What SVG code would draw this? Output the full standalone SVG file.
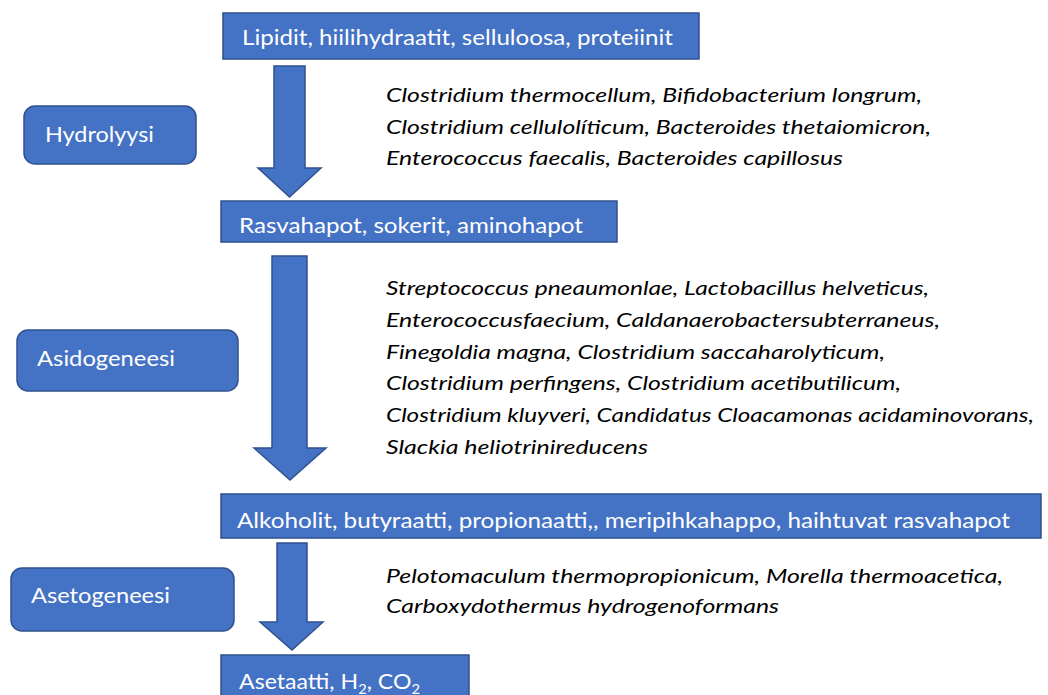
<svg xmlns="http://www.w3.org/2000/svg" width="1048" height="695" viewBox="0 0 1048 695">
<style>
.box{fill:#4472C4;stroke:#2F528F;stroke-width:1.5}
.arrow{fill:#4472C4;stroke:#2F528F;stroke-width:1.5;stroke-linejoin:miter}
.lbl{font-family:Lato,"Open Sans","Liberation Sans",sans-serif;font-size:22px;fill:#FFFFFF}
.sp{font-family:Lato,"Open Sans","Liberation Sans",sans-serif;font-size:20px;font-style:italic;fill:#000000}
</style>
<rect width="1048" height="695" fill="#FFFFFF"/>
<g id="connectors">
<polygon class="arrow" points="274,66 305,66 305,168 321,168 289.5,197 258,168 274,168"/>
<polygon class="arrow" points="272,256 307,256 307,448 326,448 290,480 254,448 272,448"/>
<polygon class="arrow" points="277,543 307,543 307,622 323,622 292,650 260,622 277,622"/>
</g>
<g id="node-lipidit">
<rect class="box" x="223" y="13" width="476" height="46"/>
<text class="lbl" x="242" y="45" textLength="431" lengthAdjust="spacingAndGlyphs">Lipidit, hiilihydraatit, selluloosa, proteiinit</text>
</g>
<g id="node-rasvahapot">
<rect class="box" x="221" y="201" width="396" height="41"/>
<text class="lbl" x="239" y="233" textLength="344" lengthAdjust="spacingAndGlyphs">Rasvahapot, sokerit, aminohapot</text>
</g>
<g id="node-alkoholit">
<rect class="box" x="221" y="494" width="820" height="44"/>
<text class="lbl" x="237" y="528" textLength="773" lengthAdjust="spacingAndGlyphs">Alkoholit, butyraatti, propionaatti,, meripihkahappo, haihtuvat rasvahapot</text>
</g>
<g id="node-asetaatti">
<rect class="box" x="221" y="655" width="248" height="46"/>
<text class="lbl" x="239" y="689" textLength="181" lengthAdjust="spacingAndGlyphs">Asetaatti, H<tspan font-size="14" dy="5">2</tspan><tspan dy="-5">, CO</tspan><tspan font-size="14" dy="5">2</tspan></text>
</g>
<g id="node-hydrolyysi">
<rect class="box" x="24" y="106" width="172" height="58" rx="11"/>
<text class="lbl" x="45" y="142" textLength="109" lengthAdjust="spacingAndGlyphs">Hydrolyysi</text>
</g>
<g id="node-asidogeneesi">
<rect class="box" x="17" y="330" width="221" height="61" rx="11"/>
<text class="lbl" x="37" y="366" textLength="138" lengthAdjust="spacingAndGlyphs">Asidogeneesi</text>
</g>
<g id="node-asetogeneesi">
<rect class="box" x="11" y="568" width="223" height="63" rx="11"/>
<text class="lbl" x="31" y="603" textLength="139" lengthAdjust="spacingAndGlyphs">Asetogeneesi</text>
</g>
<g id="species-hydrolyysi">
<text class="sp" x="386" y="102" textLength="536" lengthAdjust="spacingAndGlyphs">Clostridium thermocellum, Bifidobacterium longrum,</text>
<text class="sp" x="386" y="133.5" textLength="545" lengthAdjust="spacingAndGlyphs">Clostridium cellulolíticum, Bacteroides thetaiomicron,</text>
<text class="sp" x="386" y="165" textLength="457" lengthAdjust="spacingAndGlyphs">Enterococcus faecalis, Bacteroides capillosus</text>
</g>
<g id="species-asidogeneesi">
<text class="sp" x="386" y="295" textLength="543" lengthAdjust="spacingAndGlyphs">Streptococcus pneaumonlae, Lactobacillus helveticus,</text>
<text class="sp" x="386" y="327" textLength="554" lengthAdjust="spacingAndGlyphs">Enterococcusfaecium, Caldanaerobactersubterraneus,</text>
<text class="sp" x="386" y="358.5" textLength="499" lengthAdjust="spacingAndGlyphs">Finegoldia magna, Clostridium saccaharolyticum,</text>
<text class="sp" x="386" y="390" textLength="515" lengthAdjust="spacingAndGlyphs">Clostridium perfingens, Clostridium acetibutilicum,</text>
<text class="sp" x="386" y="422" textLength="648" lengthAdjust="spacingAndGlyphs">Clostridium kluyveri, Candidatus Cloacamonas acidaminovorans,</text>
<text class="sp" x="386" y="454" textLength="262" lengthAdjust="spacingAndGlyphs">Slackia heliotrinireducens</text>
</g>
<g id="species-asetogeneesi">
<text class="sp" x="386" y="583" textLength="617" lengthAdjust="spacingAndGlyphs">Pelotomaculum thermopropionicum, Morella thermoacetica,</text>
<text class="sp" x="386" y="613" textLength="393" lengthAdjust="spacingAndGlyphs">Carboxydothermus hydrogenoformans</text>
</g>
</svg>
